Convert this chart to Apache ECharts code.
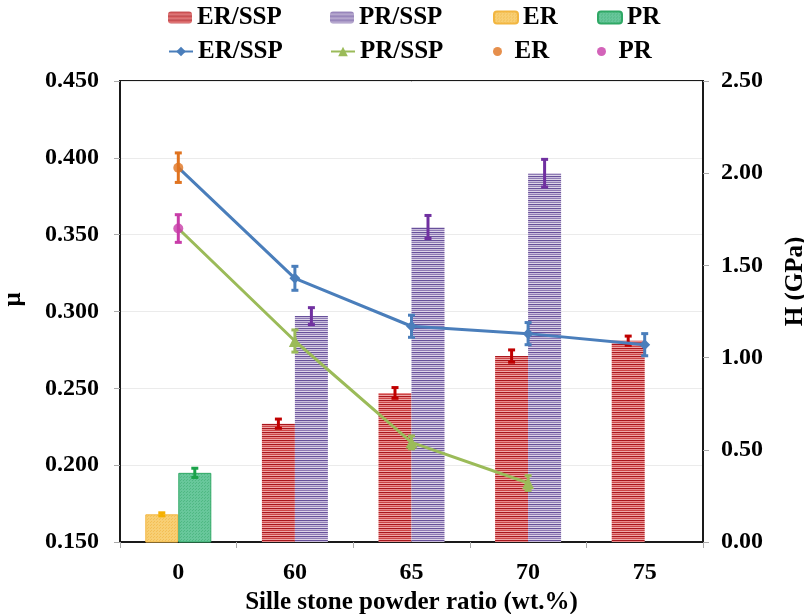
<!DOCTYPE html>
<html><head><meta charset="utf-8">
<script src="https://cdn.jsdelivr.net/npm/echarts@6/dist/echarts.min.js"></script>
<style>html,body{margin:0;padding:0;background:#fff}#c{width:804px;height:614px}</style>
</head><body><div id="c"></div>
<script>
// ---------- data ----------
const categories = ['0', '60', '65', '70', '75'];
// friction coefficient μ (left axis, bars)
const muErSsp    = [null, 0.227, 0.247, 0.271, 0.281];
const muErSspErr = [null, 0.003, 0.0035, 0.004, 0.003];
const muPrSsp    = [null, 0.297, 0.355, 0.390, null];
const muPrSspErr = [null, 0.0055, 0.0075, 0.009, null];
const muEr       = [0.168, null, null, null, null];
const muErErr    = [0.001, null, null, null, null];
const muPr       = [0.195, null, null, null, null];
const muPrErr    = [0.003, null, null, null, null];
// hardness H in GPa (right axis, lines / points)
const hErSsp     = [2.03, 1.43, 1.17, 1.13, 1.07];
const hErSspErr  = [null, 0.065, 0.06, 0.06, 0.06];
const hPrSsp     = [1.70, 1.09, 0.54, 0.32, null];
const hPrSspErr  = [null, 0.06, 0.035, 0.04, null];
const hEr        = [2.03, null, null, null, null];
const hErErr     = [0.08, null, null, null, null];
const hPr        = [1.70, null, null, null, null];
const hPrErr     = [0.075, null, null, null, null];

// ---------- styling ----------
const FONT = 'Liberation Serif';
const BAR_W = 33;
function stripes(colors) {
  const c = document.createElement('canvas');
  c.width = 4; c.height = colors.length;
  const ctx = c.getContext('2d');
  colors.forEach((col, i) => { ctx.fillStyle = col; ctx.fillRect(0, i, 4, 1); });
  return { image: c, repeat: 'repeat' };
}
function dots(bg, fg) {
  const c = document.createElement('canvas');
  c.width = 3; c.height = 3;
  const ctx = c.getContext('2d');
  ctx.fillStyle = bg; ctx.fillRect(0, 0, 3, 3);
  ctx.fillStyle = fg; ctx.fillRect(0, 0, 1, 1); ctx.fillRect(1, 2, 1, 1);
  return { image: c, repeat: 'repeat' };
}
const redPat = stripes(['#a8161d', '#e98a8a', '#cc4547', '#eea8a8']);
const purPat = stripes(['#67509a', '#c9bddc', '#8f7bb4', '#ddd5e8']);
const yelPat = dots('#f8cf74', '#f3bf55');
const grnPat = dots('#68c79b', '#4fb883');

function errSeries(values, errs, yAxisIndex, color, dx, z) {
  const data = [];
  values.forEach((v, i) => {
    if (v != null && errs[i] != null) data.push([i, v - errs[i], v + errs[i]]);
  });
  return {
    type: 'custom', yAxisIndex: yAxisIndex, z: z, silent: true, data: data,
    encode: { x: 0, y: [1, 2] },
    renderItem: function (params, api) {
      const lo = api.coord([api.value(0), api.value(1)]);
      const hi = api.coord([api.value(0), api.value(2)]);
      const x = lo[0] + dx, cw = 3.5;
      const st = { stroke: color, lineWidth: 3 };
      return { type: 'group', children: [
        { type: 'line', shape: { x1: x, y1: hi[1], x2: x, y2: lo[1] }, style: st },
        { type: 'line', shape: { x1: x - cw, y1: hi[1], x2: x + cw, y2: hi[1] }, style: st },
        { type: 'line', shape: { x1: x - cw, y1: lo[1], x2: x + cw, y2: lo[1] }, style: st }
      ]};
    }
  };
}

const legendText = { fontFamily: FONT, fontWeight: 'bold', fontSize: 25, color: '#000' };
function lg(name, left, top, h) {
  return { data: [name], left: left, top: top, itemWidth: 24, itemHeight: h, padding: 0,
    selectedMode: false, textStyle: legendText,
    formatter: n => n.replace(/ \[(mu|H)\]$/, '') };
}
const axisText = { fontFamily: FONT, fontWeight: 'bold', fontSize: 24, color: '#000' };

const chart = echarts.init(document.getElementById('c'), null, { renderer: 'canvas' });
chart.setOption({
  animation: false,
  backgroundColor: '#fff',
  grid: { left: 120, right: 101, top: 81, bottom: 72, show: true, borderColor: '#1a1a1a', borderWidth: 2,
          containLabel: false, outerBoundsMode: 'none' },
  legend: [
    lg('ER/SSP [mu]', 168, 5, 12), lg('PR/SSP [mu]', 330, 5, 12), lg('ER [mu]', 493, 5, 12), lg('PR [mu]', 597, 5, 12),
    lg('ER/SSP [H]', 168, 39, 12), lg('PR/SSP [H]', 330, 39, 12), lg('ER [H]', 493, 39, 9), lg('PR [H]', 597, 39, 9)
  ],
  xAxis: {
    type: 'category', data: categories, boundaryGap: true,
    name: 'Sille stone powder ratio (wt.%)', nameLocation: 'middle', nameGap: 40,
    nameTextStyle: { fontFamily: FONT, fontWeight: 'bold', fontSize: 25, color: '#000' },
    axisLine: { lineStyle: { color: '#1a1a1a', width: 2 } },
    axisTick: { show: true, length: 6, lineStyle: { color: '#aaa' } },
    axisLabel: Object.assign({ margin: 19 }, axisText)
  },
  yAxis: [
    { type: 'value', min: 0.15, max: 0.45, interval: 0.05,
      name: 'μ', nameLocation: 'middle', nameGap: 94, nameRotate: 90,
      nameTextStyle: { fontFamily: FONT, fontWeight: 'bold', fontSize: 25, color: '#000', padding: [0, 0, 0, 24] },
      axisLine: { show: true, lineStyle: { color: '#1a1a1a', width: 2 } },
      axisTick: { show: true, length: 6, lineStyle: { color: '#aaa' } },
      axisLabel: Object.assign({ margin: 21, formatter: v => v.toFixed(3) }, axisText),
      splitLine: { show: true, lineStyle: { color: '#ebebeb', width: 1 } } },
    { type: 'value', min: 0, max: 2.5, interval: 0.5, position: 'right',
      name: 'H (GPa)', nameLocation: 'middle', nameGap: 80, nameRotate: 90,
      nameTextStyle: { fontFamily: FONT, fontWeight: 'bold', fontSize: 25, color: '#000', padding: [0, 0, 0, 60] },
      axisLine: { show: true, lineStyle: { color: '#1a1a1a', width: 2 } },
      axisTick: { show: true, length: 6, lineStyle: { color: '#aaa' } },
      axisLabel: Object.assign({ margin: 18, formatter: v => v.toFixed(2) }, axisText),
      splitLine: { show: false } }
  ],
  series: [
    { name: 'ER/SSP [mu]', type: 'bar', stack: 'a', barWidth: BAR_W, barGap: '0%', data: muErSsp,
      itemStyle: { color: redPat } },
    { name: 'PR/SSP [mu]', type: 'bar', stack: 'b', barWidth: BAR_W, barGap: '0%', data: muPrSsp,
      itemStyle: { color: purPat } },
    { name: 'ER [mu]', type: 'bar', stack: 'a', barWidth: BAR_W, barGap: '0%', data: muEr,
      itemStyle: { color: yelPat, borderColor: '#f2b640', borderWidth: 1 } },
    { name: 'PR [mu]', type: 'bar', stack: 'b', barWidth: BAR_W, barGap: '0%', data: muPr,
      itemStyle: { color: grnPat, borderColor: '#2fa865', borderWidth: 1 } },
    errSeries(muErSsp, muErSspErr, 0, '#c00000', -BAR_W / 2, 3),
    errSeries(muPrSsp, muPrSspErr, 0, '#7030a0', BAR_W / 2, 3),
    errSeries(muEr, muErErr, 0, '#f5b000', -BAR_W / 2, 3),
    errSeries(muPr, muPrErr, 0, '#1aa34a', BAR_W / 2, 3),
    { name: 'ER/SSP [H]', type: 'line', yAxisIndex: 1, z: 5,
      data: hErSsp.map((v, i) => i === 0 ? { value: v, symbol: 'none' } : v),
      symbol: 'diamond', symbolSize: 11,
      lineStyle: { color: '#4a7ebb', width: 3 }, itemStyle: { color: '#4a7ebb' } },
    { name: 'PR/SSP [H]', type: 'line', yAxisIndex: 1, z: 5,
      data: hPrSsp.map((v, i) => i === 0 ? { value: v, symbol: 'none' } : v),
      symbol: 'triangle', symbolSize: 12,
      lineStyle: { color: '#9bbb59', width: 3 }, itemStyle: { color: '#9bbb59' } },
    errSeries(hErSsp, hErSspErr, 1, '#4a7ebb', 0, 6),
    errSeries(hPrSsp, hPrSspErr, 1, '#9bbb59', 0, 6),
    errSeries(hEr, hErErr, 1, '#e0731f', 0, 6),
    errSeries(hPr, hPrErr, 1, '#c83ca8', 0, 6),
    { name: 'ER [H]', type: 'scatter', yAxisIndex: 1, z: 7, data: hEr, symbol: 'circle', symbolSize: 10,
      itemStyle: { color: '#e0731f' } },
    { name: 'PR [H]', type: 'scatter', yAxisIndex: 1, z: 7, data: hPr, symbol: 'circle', symbolSize: 10,
      itemStyle: { color: '#c83ca8' } }
  ]
});
</script>
</body></html>
